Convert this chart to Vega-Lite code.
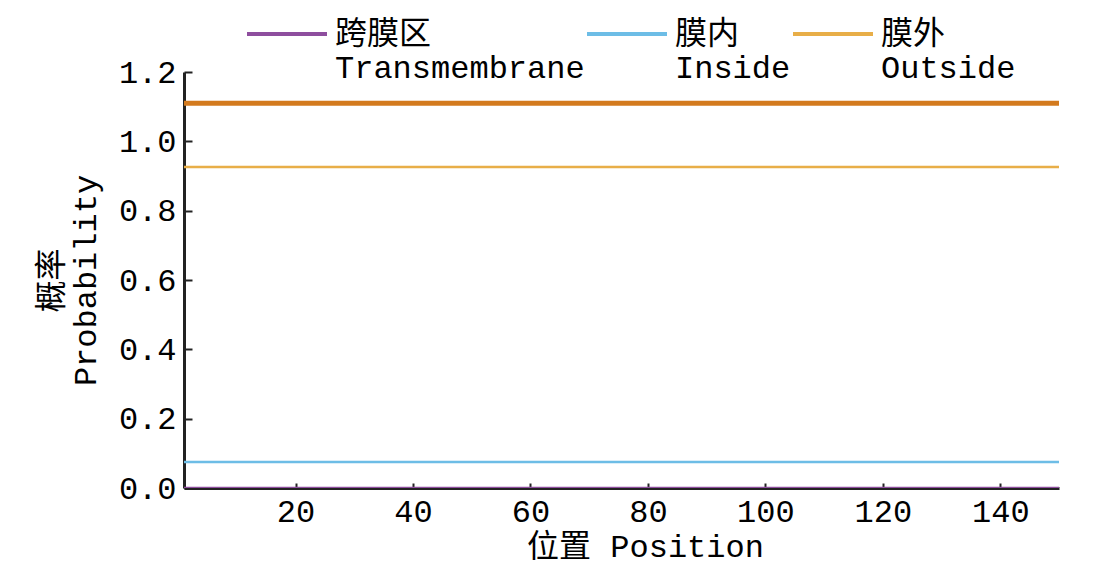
{
  "$schema": "https://vega.github.io/schema/vega-lite/v6.json",
  "width": 875,
  "height": 416,
  "autosize": {"type": "none"},
  "padding": {"left": 184, "top": 72, "right": 43, "bottom": 90},
  "background": "white",
  "config": {
    "view": {"stroke": null},
    "font": "Liberation Mono, Noto Sans CJK SC",
    "axis": {
      "labelFont": "Liberation Mono, Noto Sans CJK SC",
      "titleFont": "Liberation Mono, Noto Sans CJK SC",
      "labelFontSize": 32,
      "titleFontSize": 32,
      "titleFontWeight": "normal",
      "labelColor": "#000",
      "titleColor": "#000",
      "domainColor": "#222",
      "domainWidth": 3,
      "tickColor": "#222",
      "tickWidth": 2,
      "grid": false,
      "zindex": 1
    },
    "legend": {
      "labelFont": "Liberation Mono, Noto Sans CJK SC",
      "labelFontSize": 32,
      "labelColor": "#000",
      "labelLimit": 400
    }
  },
  "datasets": {
    "prob": [
      {"series": "跨膜区|Transmembrane", "position": 1, "probability": 0},
      {"series": "跨膜区|Transmembrane", "position": 150, "probability": 0},
      {"series": "膜内|Inside", "position": 1, "probability": 0.075},
      {"series": "膜内|Inside", "position": 150, "probability": 0.075},
      {"series": "膜外|Outside", "position": 1, "probability": 0.926},
      {"series": "膜外|Outside", "position": 150, "probability": 0.926}
    ],
    "topology": [
      {"region": "outside", "position": 1, "level": 1.11},
      {"region": "outside", "position": 150, "level": 1.11}
    ]
  },
  "layer": [
    {
      "data": {"name": "topology"},
      "mark": {"type": "line", "strokeWidth": 5, "color": "#D37A1E", "clip": true},
      "encoding": {
        "x": {"field": "position", "type": "quantitative"},
        "y": {"field": "level", "type": "quantitative"},
        "detail": {"field": "region"}
      }
    },
    {
      "data": {"name": "prob"},
      "mark": {"type": "line", "strokeWidth": 2.5, "clip": true},
      "encoding": {
        "x": {
          "field": "position",
          "type": "quantitative",
          "scale": {"domain": [1, 150], "nice": false, "zero": false},
          "axis": {
            "values": [20, 40, 60, 80, 100, 120, 140],
            "tickSize": -5,
            "labelPadding": 13,
            "title": "位置 Position",
            "titlePadding": 4,
            "titleX": 461
          }
        },
        "y": {
          "field": "probability",
          "type": "quantitative",
          "scale": {"domain": [0, 1.2], "nice": false},
          "axis": {
            "values": [0, 0.2, 0.4, 0.6, 0.8, 1.0, 1.2],
            "format": ".1f",
            "tickSize": -8,
            "labelPadding": 16,
            "title": ["概率", "Probability"],
            "titlePadding": 16
          }
        },
        "color": {
          "field": "series",
          "type": "nominal",
          "scale": {
            "domain": ["跨膜区|Transmembrane", "膜内|Inside", "膜外|Outside"],
            "range": ["#8E4E9E", "#6DBDE6", "#E8AE48"]
          },
          "legend": {
            "orient": "none",
            "direction": "horizontal",
            "legendX": 61,
            "legendY": -80,
            "title": null,
            "symbolType": "stroke",
            "symbolSize": 6400,
            "symbolStrokeWidth": 4,
            "labelOffset": 6,
            "columnPadding": -8,
            "labelLineHeight": 42,
            "labelExpr": "split(datum.label, '|')"
          }
        }
      }
    }
  ]
}
